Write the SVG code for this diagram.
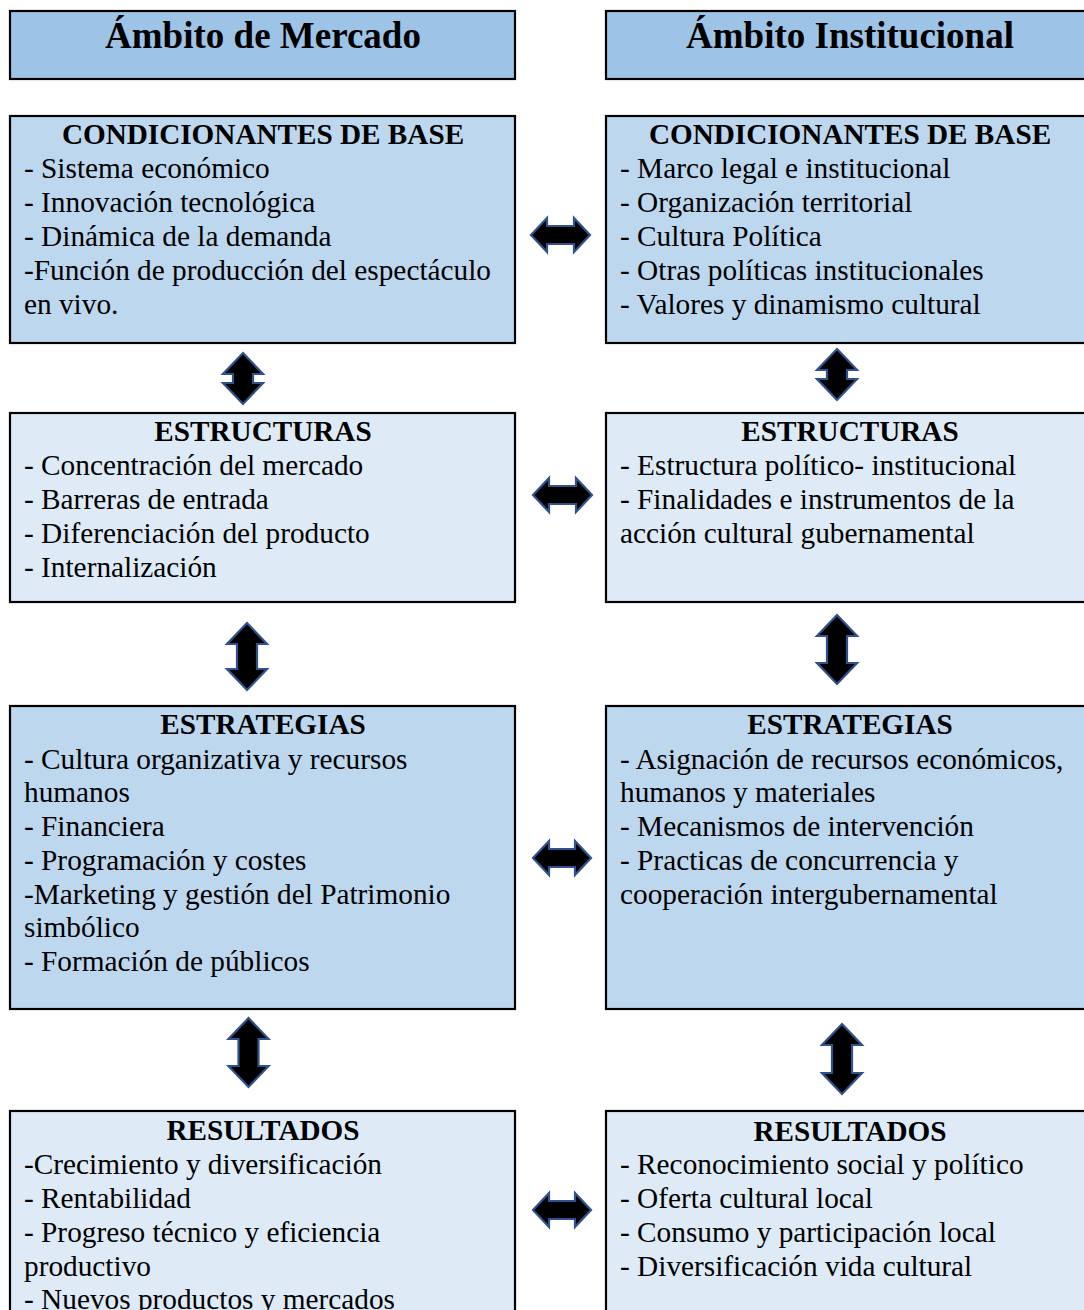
<svg xmlns="http://www.w3.org/2000/svg" width="1084" height="1310" viewBox="0 0 1084 1310">
<style>
.box{stroke:#000;stroke-width:2.2}
.t{fill:#9DC3E6}.d{fill:#BDD7EE}.l{fill:#DEEBF7}
text{font-family:"Liberation Serif","Times New Roman",serif;fill:#000}
.title{font-size:37px;font-weight:bold;text-anchor:middle}
.h{font-size:29.2px;font-weight:bold;text-anchor:middle}
.b{font-size:29.3px}
.arr{fill:#000;stroke:#2F528F;stroke-width:2.2;stroke-linejoin:miter}
</style>
<rect width="1084" height="1310" fill="#fff"/>
<g id="title-mercado"><rect class="box t" x="10" y="11" width="505" height="68"/><text class="title" x="263" y="48">Ámbito de Mercado</text></g>
<g id="title-institucional"><rect class="box t" x="606" y="11" width="490" height="68"/><text class="title" x="850" y="48">Ámbito Institucional</text></g>

<g id="m-base"><rect class="box d" x="10" y="116" width="505" height="227"/>
<text class="h" x="263" y="144">CONDICIONANTES DE BASE</text>
<text class="b" x="24" y="178">- Sistema económico</text>
<text class="b" x="24" y="212">- Innovación tecnológica</text>
<text class="b" x="24" y="246">- Dinámica de la demanda</text>
<text class="b" x="24" y="280">-Función de producción del espectáculo</text>
<text class="b" x="24" y="314">en vivo.</text></g>

<g id="i-base"><rect class="box d" x="606" y="116" width="490" height="227"/>
<text class="h" x="850" y="144">CONDICIONANTES DE BASE</text>
<text class="b" x="620" y="178">- Marco legal e institucional</text>
<text class="b" x="620" y="212">- Organización territorial</text>
<text class="b" x="620" y="246">- Cultura Política</text>
<text class="b" x="620" y="280">- Otras políticas institucionales</text>
<text class="b" x="620" y="314">- Valores y dinamismo cultural</text></g>

<g id="m-estructuras"><rect class="box l" x="10" y="413" width="505" height="189"/>
<text class="h" x="263" y="441">ESTRUCTURAS</text>
<text class="b" x="24" y="475">- Concentración del mercado</text>
<text class="b" x="24" y="509">- Barreras de entrada</text>
<text class="b" x="24" y="543">- Diferenciación del producto</text>
<text class="b" x="24" y="577">- Internalización</text></g>

<g id="i-estructuras"><rect class="box l" x="606" y="413" width="490" height="189"/>
<text class="h" x="850" y="441">ESTRUCTURAS</text>
<text class="b" x="620" y="475">- Estructura político- institucional</text>
<text class="b" x="620" y="509">- Finalidades e instrumentos de la</text>
<text class="b" x="620" y="543">acción cultural gubernamental</text></g>

<g id="m-estrategias"><rect class="box d" x="10" y="706" width="505" height="303"/>
<text class="h" x="263" y="734">ESTRATEGIAS</text>
<text class="b" x="24" y="769">- Cultura organizativa y recursos</text>
<text class="b" x="24" y="802">humanos</text>
<text class="b" x="24" y="836">- Financiera</text>
<text class="b" x="24" y="870">- Programación y costes</text>
<text class="b" x="24" y="904">-Marketing y gestión del Patrimonio</text>
<text class="b" x="24" y="937">simbólico</text>
<text class="b" x="24" y="971">- Formación de públicos</text></g>

<g id="i-estrategias"><rect class="box d" x="606" y="706" width="490" height="303"/>
<text class="h" x="850" y="734">ESTRATEGIAS</text>
<text class="b" x="620" y="769">- Asignación de recursos económicos,</text>
<text class="b" x="620" y="802">humanos y materiales</text>
<text class="b" x="620" y="836">- Mecanismos de intervención</text>
<text class="b" x="620" y="870">- Practicas de concurrencia y</text>
<text class="b" x="620" y="904">cooperación intergubernamental</text></g>

<g id="m-resultados"><rect class="box l" x="10" y="1111" width="505" height="220"/>
<text class="h" x="263" y="1140">RESULTADOS</text>
<text class="b" x="24" y="1174">-Crecimiento y diversificación</text>
<text class="b" x="24" y="1208">- Rentabilidad</text>
<text class="b" x="24" y="1242">- Progreso técnico y eficiencia</text>
<text class="b" x="24" y="1276">productivo</text>
<text class="b" x="24" y="1309">- Nuevos productos y mercados</text></g>

<g id="i-resultados"><rect class="box l" x="606" y="1111" width="490" height="220"/>
<text class="h" x="850" y="1141">RESULTADOS</text>
<text class="b" x="620" y="1174">- Reconocimiento social y político</text>
<text class="b" x="620" y="1208">- Oferta cultural local</text>
<text class="b" x="620" y="1242">- Consumo y participación local</text>
<text class="b" x="620" y="1276">- Diversificación vida cultural</text></g>

<g id="connectors">
<path class="arr" d="M531,235 L547,218 L547,226 L574,226 L574,218 L590,235 L574,252 L574,244 L547,244 L547,252 Z"/>
<path class="arr" d="M533,495 L549,478 L549,486 L576,486 L576,478 L592,495 L576,512 L576,504 L549,504 L549,512 Z"/>
<path class="arr" d="M533,858 L549,841 L549,849 L575,849 L575,841 L591,858 L575,875 L575,867 L549,867 L549,875 Z"/>
<path class="arr" d="M533,1210 L549,1193 L549,1201 L575,1201 L575,1193 L591,1210 L575,1227 L575,1219 L549,1219 L549,1227 Z"/>
<path class="arr" d="M243,353 L263,374 L253,374 L253,383 L263,383 L243,404 L223,383 L233,383 L233,374 L223,374 Z"/>
<path class="arr" d="M837,349 L857,370 L847,370 L847,379 L857,379 L837,400 L817,379 L827,379 L827,370 L817,370 Z"/>
<path class="arr" d="M247,623 L267,644 L257,644 L257,669 L267,669 L247,690 L227,669 L237,669 L237,644 L227,644 Z"/>
<path class="arr" d="M837,615 L857,636 L847,636 L847,663 L857,663 L837,684 L817,663 L827,663 L827,636 L817,636 Z"/>
<path class="arr" d="M248.5,1018 L268.5,1039 L258.5,1039 L258.5,1066 L268.5,1066 L248.5,1087 L228.5,1066 L238.5,1066 L238.5,1039 L228.5,1039 Z"/>
<path class="arr" d="M842,1024 L862,1045 L852,1045 L852,1073 L862,1073 L842,1094 L822,1073 L832,1073 L832,1045 L822,1045 Z"/>
</g>
</svg>
